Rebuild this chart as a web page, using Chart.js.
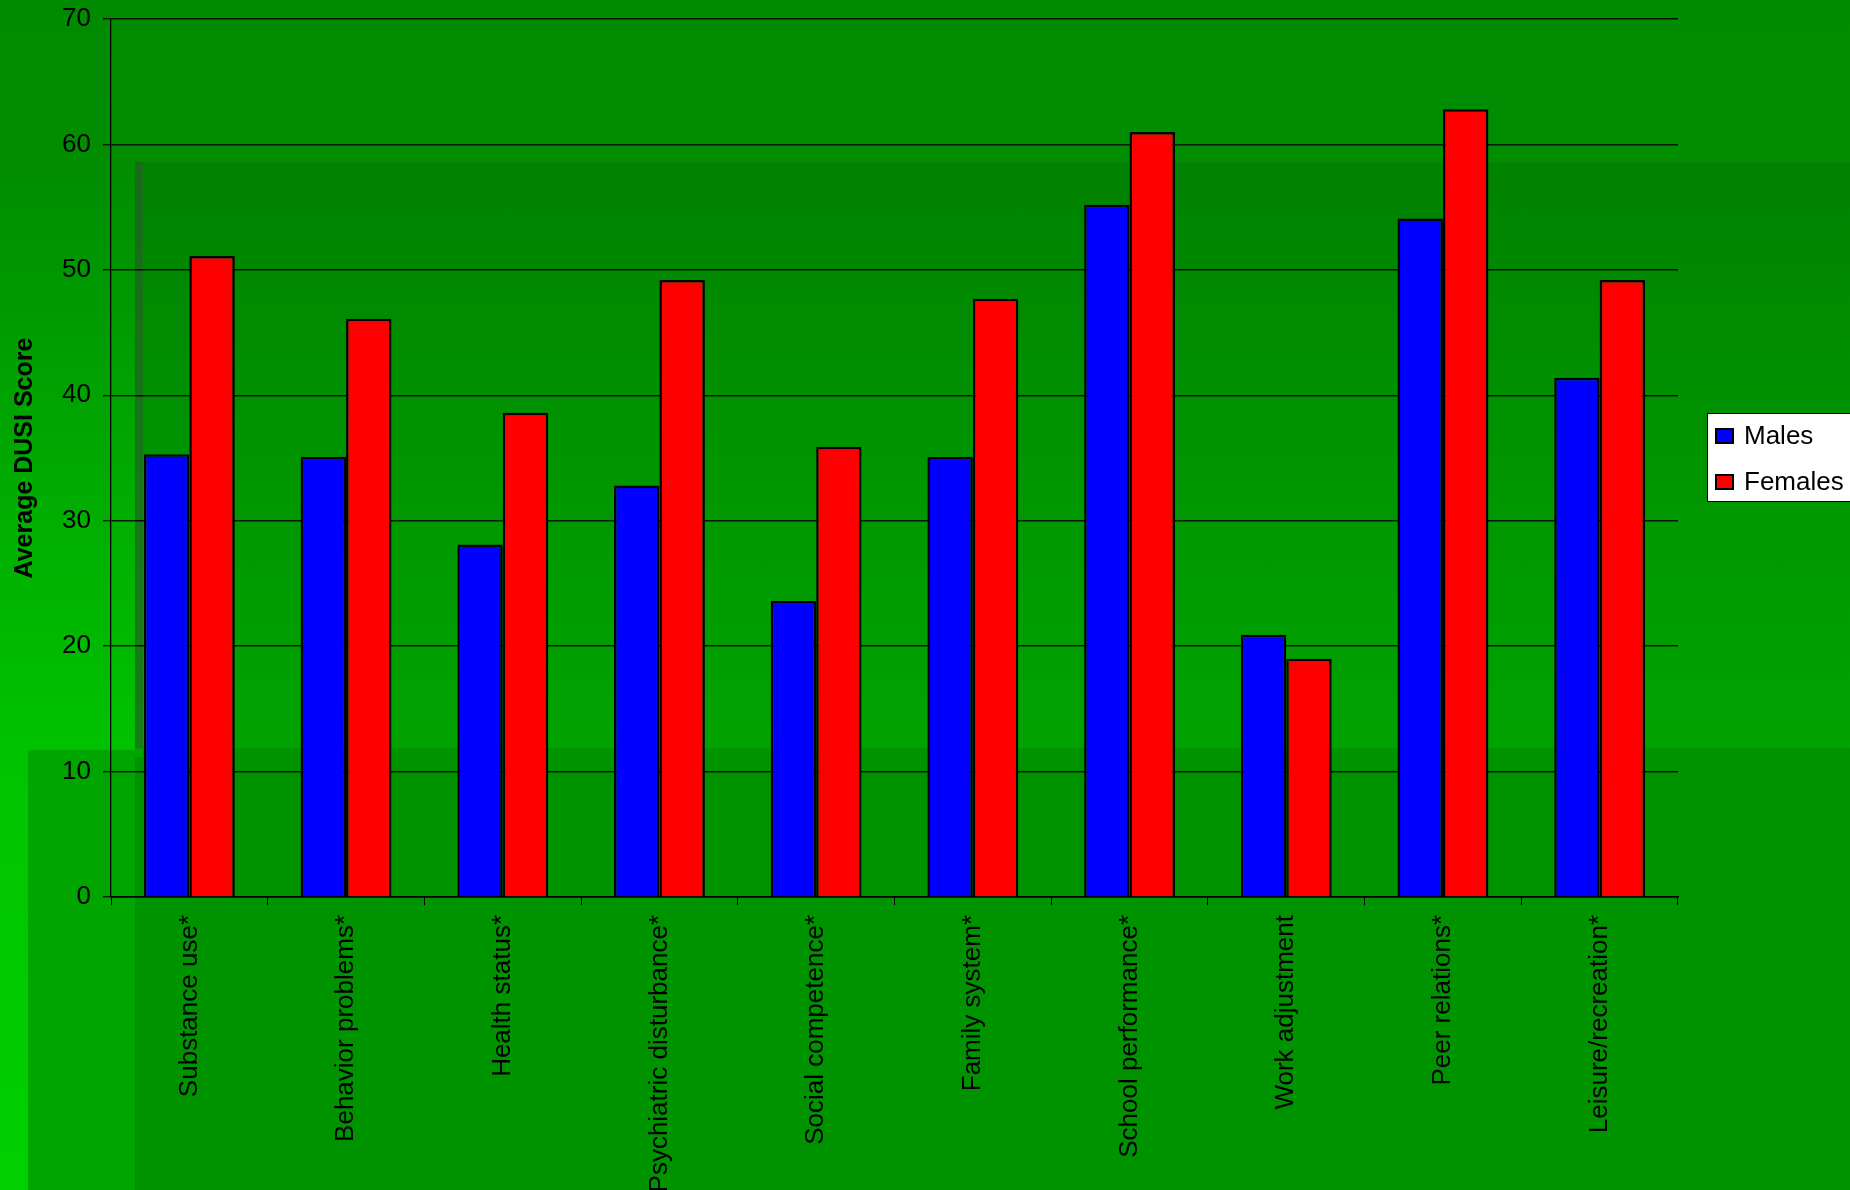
<!DOCTYPE html>
<html>
<head>
<meta charset="utf-8">
<title>Average DUSI Score</title>
<script src="https://cdn.jsdelivr.net/npm/chart.js@4.4.1/dist/chart.umd.min.js"></script>
<style>
  html, body { margin: 0; padding: 0; }
  body {
    width: 1850px; height: 1190px; overflow: hidden; position: relative;
    background: linear-gradient(to bottom, #008a00 0%, #008e00 15%, #00b000 45%, #00c400 65%, #00d000 100%);
  }
  .bg { position: absolute; }
  #bandA { left: 135px; top: 162px; width: 1715px; height: 586px;
    background: linear-gradient(to bottom, rgba(0,0,0,0.08), rgba(0,0,0,0.16)); }
  #shadowA { left: 135px; top: 162px; width: 8px; height: 595px; background: rgba(50,80,50,0.45); }
  #bandB { left: 28px; top: 750px; width: 1822px; height: 440px; background: #00a500; }
  #bandC { left: 143px; top: 748px; width: 1707px; height: 442px; background: #009300; }
  #bandD { left: 135px; top: 757px; width: 8px; height: 433px; background: #009300; }
  #wrap { position: absolute; left: 0; top: 0; width: 1850px; height: 1190px; }
</style>
</head>
<body>
<div class="bg" id="bandA"></div>
<div class="bg" id="shadowA"></div>
<div class="bg" id="bandB"></div>
<div class="bg" id="bandC"></div>
<div class="bg" id="bandD"></div>
<div id="wrap"><canvas id="barChart"></canvas></div>

<script>
const categories = ['Substance use*', 'Behavior problems*', 'Health status*', 'Psychiatric disturbance*',
  'Social competence*', 'Family system*', 'School performance*', 'Work adjustment',
  'Peer relations*', 'Leisure/recreation*'];
const malesValues = [35.3, 35.1, 28.1, 32.8, 23.6, 35.1, 55.2, 20.9, 54.1, 41.4];
const femalesValues = [51.1, 46.1, 38.6, 49.2, 35.9, 47.7, 61.0, 19.0, 62.8, 49.2];
const yTicks = [0, 10, 20, 30, 40, 50, 60, 70];

const FONT = '"Liberation Sans", Arial, sans-serif';

// white legend box on the right, drawn from the dataset labels/colours
const legendBox = {
  id: 'legendBox',
  afterDraw(chart) {
    const ctx = chart.ctx;
    const area = chart.chartArea;
    const x = area.right + 29;
    const h = 88;
    const y = Math.round((area.top + area.bottom) / 2 - h / 2) - 1;
    ctx.save();
    ctx.fillStyle = '#fff';
    ctx.fillRect(x, y, 200, h);
    ctx.strokeStyle = '#000';
    ctx.lineWidth = 1;
    ctx.strokeRect(x + 0.5, y + 0.5, 200, h);
    ctx.font = '26px ' + FONT;
    ctx.textBaseline = 'middle';
    chart.data.datasets.forEach((ds, i) => {
      const cy = y + 23 + i * 46;
      ctx.fillStyle = ds.backgroundColor;
      ctx.fillRect(x + 9, cy - 7, 17, 14);
      ctx.lineWidth = 2;
      ctx.strokeRect(x + 9, cy - 7, 17, 14);
      ctx.fillStyle = '#000';
      ctx.fillText(ds.label, x + 37, cy + 1);
    });
    ctx.restore();
  }
};

const ctx = document.getElementById('barChart').getContext('2d');
new Chart(ctx, {
  type: 'bar',
  data: {
    labels: categories,
    datasets: [
      { label: 'Males', data: malesValues, backgroundColor: '#0000ff', borderColor: '#000', borderWidth: 2.5 },
      { label: 'Females', data: femalesValues, backgroundColor: '#ff0000', borderColor: '#000', borderWidth: 2.5 }
    ]
  },
  options: {
    responsive: true,
    maintainAspectRatio: false,
    animation: false,
    layout: { padding: { left: 0, top: 19, right: 172, bottom: 0 } },
    datasets: { bar: { categoryPercentage: 0.58, barPercentage: 1.0 } },
    plugins: {
      legend: { display: false },
      tooltip: { enabled: false }
    },
    scales: {
      x: {
        afterFit(scale) { scale.height = 293; scale.paddingLeft = 0; scale.paddingRight = 0; },
        grid: { display: true, drawOnChartArea: false, drawTicks: true, tickLength: 8, color: '#000', lineWidth: 1, offset: true },
        border: { display: true, color: '#000', width: 1.5 },
        ticks: {
          color: '#000', font: { family: FONT, size: 26 },
          minRotation: 90, maxRotation: 90, padding: 10, autoSkip: false
        }
      },
      y: {
        min: 0, max: 70,
        afterFit(scale) { scale.width = 111; scale.paddingTop = 0; scale.paddingBottom = 0; },
        afterBuildTicks(scale) { scale.ticks = yTicks.map(v => ({ value: v })); },
        grid: { color: 'rgba(0,0,0,0.85)', lineWidth: 1.4, tickLength: 8 },
        border: { display: true, color: '#000', width: 1.3 },
        ticks: { color: '#000', font: { family: FONT, size: 26 }, padding: 12 },
        title: {
          display: true, text: 'Average DUSI Score', color: '#000',
          font: { family: FONT, size: 25, weight: 'bold' },
          padding: { top: 10, bottom: 0 }
        }
      }
    }
  },
  plugins: [legendBox]
});
</script>
</body>
</html>
